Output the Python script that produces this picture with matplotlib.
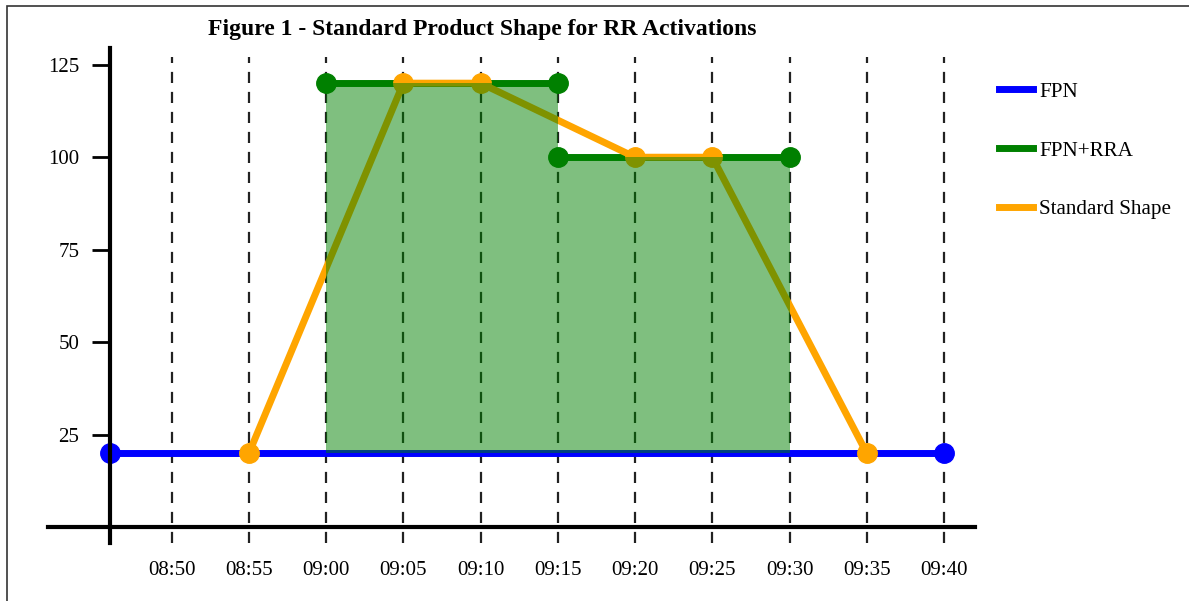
import matplotlib.pyplot as plt
import matplotlib.patches as mpatches
import numpy as np

# Data (times as HH:MM, values in MW)
fpn_times = ['08:46', '09:40']
fpn_values = [20, 20]

rra_times_1 = ['09:00', '09:15']
rra_values_1 = [120, 120]
rra_times_2 = ['09:15', '09:30']
rra_values_2 = [100, 100]

shape_times = ['08:55', '09:05', '09:10', '09:20', '09:25', '09:35']
shape_values = [20, 120, 120, 100, 100, 20]

tick_times = ['08:50', '08:55', '09:00', '09:05', '09:10', '09:15',
              '09:20', '09:25', '09:30', '09:35', '09:40']
y_ticks = [25, 50, 75, 100, 125]


def to_min(t):
    h, m = t.split(':')
    return int(h) * 60 + int(m)


plt.rcParams['font.family'] = ['Liberation Serif', 'DejaVu Serif']

fig = plt.figure(figsize=(11.89, 6.01), dpi=100)
W, H = 1189, 601

# Light border around the picture
fig.patches.append(mpatches.Rectangle((7 / W, -0.1), 1.2, 1 - 6 / H + 0.1,
                                      transform=fig.transFigure, fill=False,
                                      edgecolor='#333333', linewidth=1.2))

ax = fig.add_axes([48 / W, (H - 543) / H, (975 - 48) / W, (543 - 48) / H])

fpn_x = [to_min(t) for t in fpn_times]
rra_x1 = [to_min(t) for t in rra_times_1]
rra_x2 = [to_min(t) for t in rra_times_2]
shape_x = [to_min(t) for t in shape_times]
tick_x = [to_min(t) for t in tick_times]

ax.set_xlim(to_min('08:42'), to_min('09:42'))
ax.set_ylim(-4.2, 129.5)

# Dashed vertical gridlines
for x in tick_x:
    ax.plot([x, x], [-4.2, 127], color='#222222', linewidth=1.6,
            dashes=(5, 4), zorder=1)

# FPN line
ax.plot(fpn_x, fpn_values, color='#0000ff', linewidth=5, marker='o',
        markersize=14, zorder=2, label='FPN')

# FPN+RRA line (two steps)
ax.plot(rra_x1, rra_values_1, color='#008000', linewidth=5, marker='o',
        markersize=14, zorder=3, label='FPN+RRA')
ax.plot(rra_x2, rra_values_2, color='#008000', linewidth=5, marker='o',
        markersize=14, zorder=3)

# Standard shape
ax.plot(shape_x, shape_values, color='#ffa500', linewidth=5, marker='o',
        markersize=14, zorder=4, label='Standard Shape')

# Shaded RRA area between FPN and FPN+RRA
fill_x = rra_x1 + rra_x2
fill_top = rra_values_1 + rra_values_2
ax.fill_between(fill_x, fpn_values[0], fill_top, color='#008000',
                alpha=0.5, linewidth=0, zorder=5)

# Axes styling
for s in ['top', 'right']:
    ax.spines[s].set_visible(False)
ax.spines['left'].set_position(('data', fpn_x[0]))
ax.spines['bottom'].set_position(('data', 0))
ax.spines['left'].set_linewidth(3)
ax.spines['bottom'].set_linewidth(3)
ax.spines['left'].set_zorder(6)
ax.spines['bottom'].set_zorder(6)

ax.set_yticks(y_ticks)
ax.set_yticklabels([str(v) for v in y_ticks])
ax.tick_params(axis='y', length=13, width=2, pad=9, labelsize=15)

ax.set_xticks(tick_x)
ax.set_xticklabels(tick_times)
ax.tick_params(axis='x', length=0, pad=24, labelsize=15)
ax.patch.set_alpha(0)

# Title
fig.text(482 / W, 1 - 30 / H, 'Figure 1 - Standard Product Shape for RR Activations',
         ha='center', va='center', fontsize=17, fontweight='bold')

# Legend
leg = fig.legend(loc='upper left', bbox_to_anchor=(980 / W, 1 - 63 / H),
                 frameon=False, fontsize=15.2, handlelength=1.6,
                 handletextpad=0.3, labelspacing=1.85)
for line in leg.get_lines():
    line.set_marker('')
    line.set_linewidth(5)

plt.savefig('out.png', dpi=100)
